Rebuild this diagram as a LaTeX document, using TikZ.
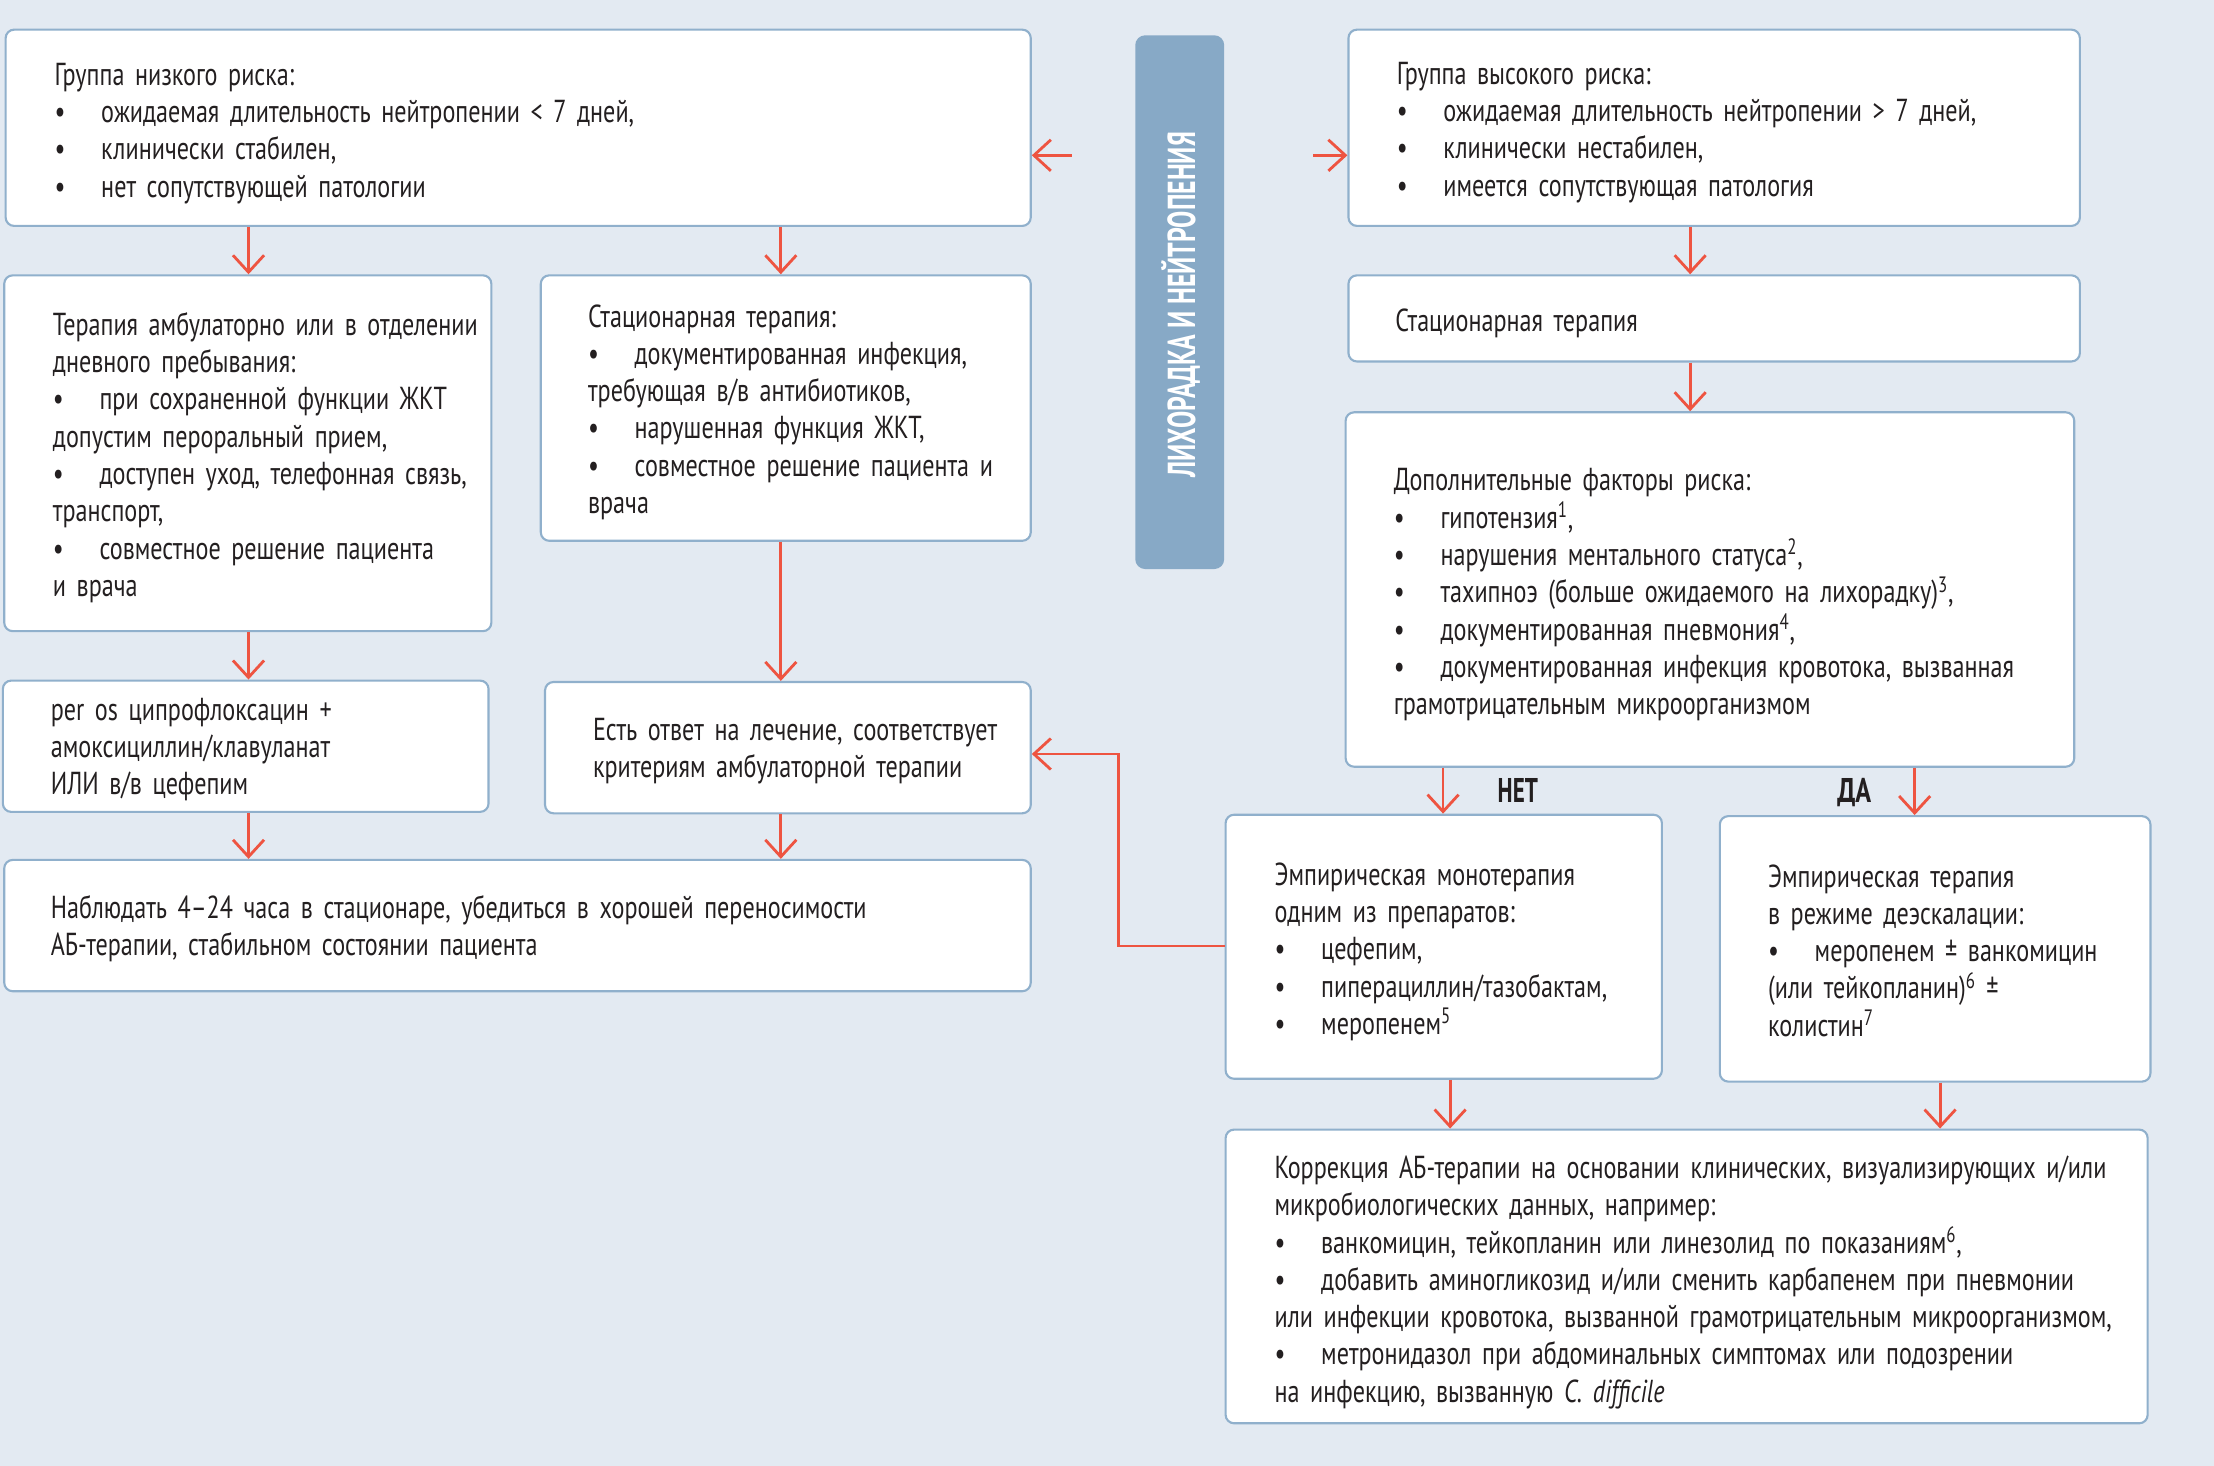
\documentclass[tikz,border=0pt]{standalone}
\usepackage{fontspec}
\usepackage{graphicx}
\setmainfont{PT Sans}[FakeStretch=0.76]
\usetikzlibrary{fit,arrows.meta,calc}
\definecolor{bgc}{HTML}{E3EAF2}
\definecolor{bordc}{HTML}{90B0CC}
\definecolor{bannc}{HTML}{87A9C6}
\definecolor{redc}{HTML}{EE5441}
\definecolor{inkc}{HTML}{231F20}
\newcommand\bodyfnt{\fontsize{22.5}{26.4}\selectfont\lineskiplimit=-100pt\relax}
\newcommand\bul{\makebox[33pt][l]{\textbullet}}
\newcommand\fl{\rule{0pt}{22pt}}
\newcommand\sups[1]{\textsuperscript{#1}}
\tikzset{
  box/.style={draw=bordc, line width=1.5pt, fill=white, rounded corners=6pt, inner sep=0pt},
  banner/.style={fill=bannc, draw=none, rounded corners=7pt, inner sep=0pt},
  txt/.style={anchor=north west, inner sep=0pt, text width=720pt, align=left, font=\bodyfnt, text=inkc},
  arr/.style={draw=redc, line width=2pt, -{Straight Barb[length=12pt,width=22pt]}},
  lbl/.style={anchor=base west, inner sep=0pt, text=inkc, font=\fontsize{24.3}{28}\selectfont\bfseries}
}
\begin{document}
\begin{tikzpicture}[x=1pt,y=-1pt]
\useasboundingbox (0,0) rectangle (1568,1038);
\fill[bgc] (0,0) rectangle (1568,1038);
% boxes
\node[box, fit={(4,21) (730,160)}] (b1) {};
\node[box, fit={(955,21) (1473,160)}] (b2) {};
\node[banner, fit={(804,25) (867,403)}] (bn) {};
\node[box, fit={(955,195) (1473,256)}] (b3) {};
\node[box, fit={(953,292) (1469,543)}] (b4) {};
\node[box, fit={(3,195) (348,447)}] (b5) {};
\node[box, fit={(383,195) (730,383)}] (b6) {};
\node[box, fit={(2,482) (346,575)}] (b7) {};
\node[box, fit={(386,483) (730,576)}] (b8) {};
\node[box, fit={(3,609) (730,702)}] (b9) {};
\node[box, fit={(868,577) (1177,764)}] (b10) {};
\node[box, fit={(1218,578) (1523,766)}] (b11) {};
\node[box, fit={(868,800) (1521,1008)}] (b12) {};
% banner text
\node[rotate=90, inner sep=0pt, text=white] (bt) at (836,216)
  {\resizebox{245pt}{\height}{\fontsize{27.6}{30}\selectfont\bfseries ЛИХОРАДКА И НЕЙТРОПЕНИЯ}};
% helper coordinates
\coordinate (xA) at (176,0);
\coordinate (xB) at (553,0);
\coordinate (xC) at (1197,0);
\coordinate (xD) at (1022,0);
\coordinate (xE) at (1356,0);
\coordinate (xF) at (1027,0);
\coordinate (xG) at (1374,0);
\coordinate (xH) at (792,0);
\coordinate (sL) at (759,110);
\coordinate (sR) at (930,110);
\coordinate (yM) at (0,670);
\coordinate (yN) at (0,534);
% connectors
\draw[arr] (sL) -- (b1.east |- sL);
\draw[arr] (sR) -- (b2.west |- sR);
\draw[arr] (b1.south -| xA) -- (b5.north -| xA);
\draw[arr] (b1.south -| xB) -- (b6.north -| xB);
\draw[arr] (b2.south -| xC) -- (b3.north -| xC);
\draw[arr] (b3.south -| xC) -- (b4.north -| xC);
\draw[arr] (b5.south -| xA) -- (b7.north -| xA);
\draw[arr] (b6.south -| xB) -- (b8.north -| xB);
\draw[arr] (b7.south -| xA) -- (b9.north -| xA);
\draw[arr] (b8.south -| xB) -- (b9.north -| xB);
\draw[arr] (b4.south -| xD) -- (b10.north -| xD);
\draw[arr] (b4.south -| xE) -- (b11.north -| xE);
\draw[arr] (b10.south -| xF) -- (b12.north -| xF);
\draw[arr] (b11.south -| xG) -- (b12.north -| xG);
\draw[arr] (b10.west |- yM) -| (xH |- yN) -- (b8.east |- yN);
% labels
\node[lbl] (lno) at (1060.5,568.5) {\resizebox{28.5pt}{\height}{НЕТ}};
\node[lbl] (lyes) at (1301,568.5) {\resizebox{24pt}{\height}{ДА}};
% texts
\node[txt] (t1) at (38.5,38.2) {\fl Группа низкого риска:\\
\bul ожидаемая длительность нейтропении < 7 дней,\\
\bul клинически стабилен,\\
\bul нет сопутствующей патологии};
\node[txt] (t2) at (989,37.6) {\fl Группа высокого риска:\\
\bul ожидаемая длительность нейтропении > 7 дней,\\
\bul клинически нестабилен,\\
\bul имеется сопутствующая патология};
\node[txt] (t3) at (988,212.4) {\fl Стационарная терапия};
\node[txt] (t4) at (987,325.5) {\fl Дополнительные факторы риска:\\
\bul гипотензия\sups{1},\\
\bul нарушения ментального статуса\sups{2},\\
\bul тахипноэ (больше ожидаемого на лихорадку)\sups{3},\\
\bul документированная пневмония\sups{4},\\
\bul документированная инфекция кровотока, вызванная\\
грамотрицательным микроорганизмом};
\node[txt] (t5) at (37.3,215.3) {\fl Терапия амбулаторно или в отделении\\
дневного пребывания:\\
\bul при сохраненной функции ЖКТ\\
допустим пероральный прием,\\
\bul доступен уход, телефонная связь,\\
транспорт,\\
\bul совместное решение пациента\\
и врача};
\node[txt] (t6) at (416.3,209.4) {\fl Стационарная терапия:\\
\bul документированная инфекция,\\
требующая в/в антибиотиков,\\
\bul нарушенная функция ЖКТ,\\
\bul совместное решение пациента и\\
врача};
\node[txt] (t7) at (35.8,488) {\fl per os ципрофлоксацин +\\
амоксициллин/клавуланат\\
ИЛИ в/в цефепим};
\node[txt] (t8) at (419.8,502) {\fl Есть ответ на лечение, соответствует\\
критериям амбулаторной терапии};
\node[txt] (t9) at (35.8,628.4) {\fl Наблюдать 4–24 часа в стационаре, убедиться в хорошей переносимости\\
АБ-терапии, стабильном состоянии пациента};
\node[txt] (t10) at (902.5,604.8) {\fl Эмпирическая монотерапия\\
одним из препаратов:\\
\bul цефепим,\\
\bul пиперациллин/тазобактам,\\
\bul меропенем\sups{5}};
\node[txt] (t11) at (1252,606) {\fl Эмпирическая терапия\\
в режиме деэскалации:\\
\bul меропенем ± ванкомицин\\
(или тейкопланин)\sups{6} ±\\
колистин\sups{7}};
\node[txt] (t12) at (902.5,812.5) {\fl Коррекция АБ-терапии на основании клинических, визуализирующих и/или\\
микробиологических данных, например:\\
\bul ванкомицин, тейкопланин или линезолид по показаниям\sups{6},\\
\bul добавить аминогликозид и/или сменить карбапенем при пневмонии\\
или инфекции кровотока, вызванной грамотрицательным микроорганизмом,\\
\bul метронидазол при абдоминальных симптомах или подозрении\\
на инфекцию, вызванную \textit{C. difficile}};
\end{tikzpicture}
\end{document}
